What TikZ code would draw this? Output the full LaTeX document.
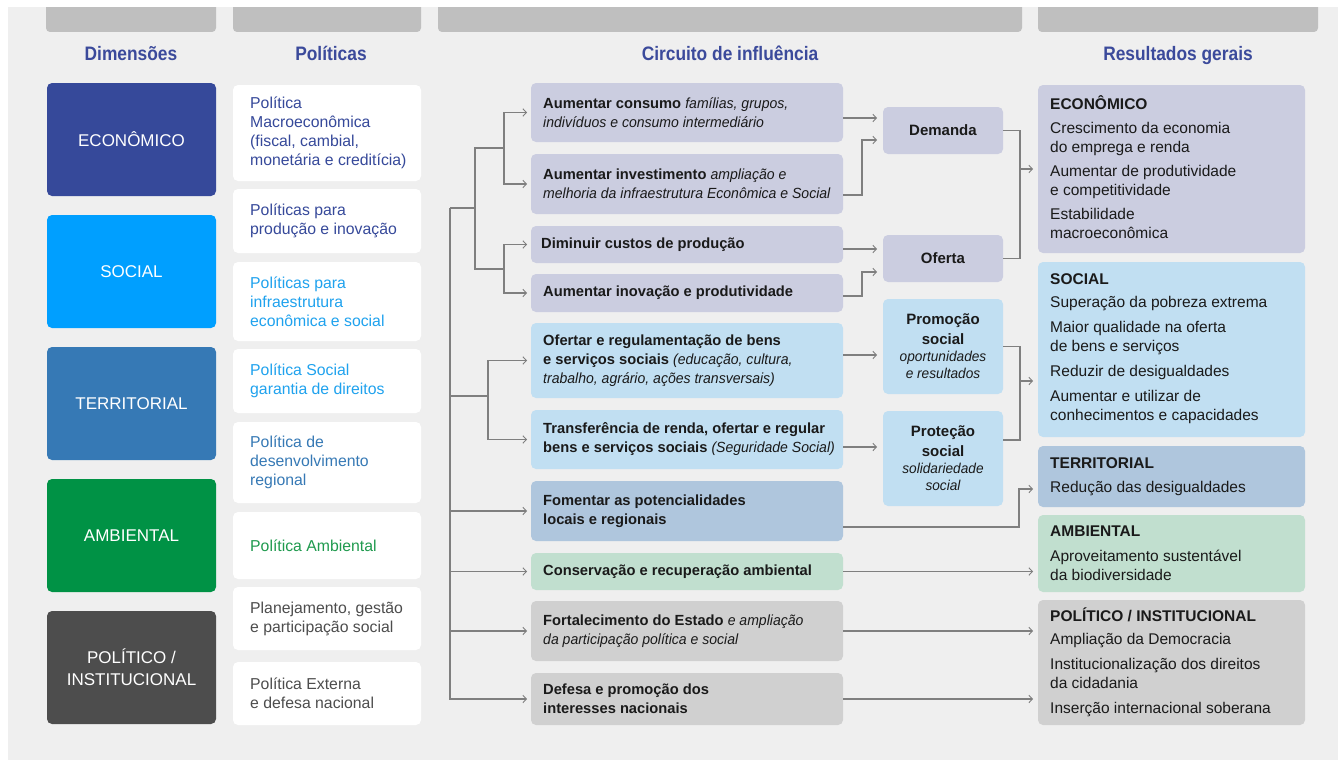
\documentclass[tikz,border=0pt]{standalone}
\usepackage{fontspec}
\setmainfont{Liberation Sans}[ItalicFeatures={FakeStretch=0.955}]
\newfontfamily\condfont[FakeStretch=0.89]{Liberation Sans}
\usetikzlibrary{arrows.meta}
\definecolor{bgc}{HTML}{EFEFEF}
\definecolor{barc}{HTML}{BFBFBF}
\definecolor{headc}{HTML}{3B4A9B}
\definecolor{dimblue}{HTML}{36499A}
\definecolor{socblue}{HTML}{009FFF}
\definecolor{terblue}{HTML}{3679B5}
\definecolor{ambgreen}{HTML}{009245}
\definecolor{polgray}{HTML}{4D4D4D}
\definecolor{ltxtblue}{HTML}{1FA2EE}
\definecolor{ambtxt}{HTML}{1F9A4E}
\definecolor{lav}{HTML}{CBCDE0}
\definecolor{lblue}{HTML}{C1DFF2}
\definecolor{tblue}{HTML}{AFC6DD}
\definecolor{lgreen}{HTML}{C1DFCF}
\definecolor{mgray}{HTML}{D0D0D0}
\definecolor{connc}{HTML}{7F7F7F}
\definecolor{txtc}{HTML}{1A1A1A}
\begin{document}
\begin{tikzpicture}[x=1pt,y=-1pt,
  box/.style={rectangle, rounded corners=5pt, inner sep=0pt, outer sep=0pt, anchor=north west},
  head/.style={anchor=base, inner sep=0pt, text=headc, font=\condfont\bfseries\fontsize{19.5}{22}\selectfont},
  dimtxt/.style={align=center, inner sep=0pt, text=white, font=\fontsize{17}{22}\selectfont},
  poltxt/.style={anchor=west, align=left, inner sep=0pt, font=\fontsize{15.8}{19}\selectfont},
  midtxt/.style={anchor=west, align=left, inner sep=0pt, text=txtc, font=\fontsize{14.7}{19}\selectfont},
  inttxt/.style={align=center, inner sep=0pt, text=txtc, font=\fontsize{15}{20}\selectfont},
  restxt/.style={anchor=west, align=left, inner sep=0pt, text=txtc, font=\fontsize{15.5}{19}\selectfont},
  conn/.style={draw=connc, line width=1.2pt},
  arr/.style={conn, -{Straight Barb[length=3.5pt,width=7.5pt,line width=0.9pt]}, shorten >=4pt},
  arrR/.style={arr, shorten >=6pt},
  arrF/.style={arr, shorten >=5pt}
]
\useasboundingbox (0,0) rectangle (1338,760);
\fill[white] (0,0) rectangle (1338,760);
\fill[bgc] (8,7) rectangle (1338,760);
% top bars
\fill[barc, rounded corners=4pt] (46,-10) rectangle (216,32);
\fill[barc, rounded corners=4pt] (233,-10) rectangle (421,32);
\fill[barc, rounded corners=4pt] (438,-10) rectangle (1022,32);
\fill[barc, rounded corners=4pt] (1038,-10) rectangle (1318,32);
\fill[white] (0,-12) rectangle (1338,7);

% headers
\node[head] (h1) at (131,61) {Dimensões};
\node[head] (h2) at (331,61) {Políticas};
\node[head] (h3) at (730,61) {Circuito de influência};
\node[head] (h4) at (1178,61) {Resultados gerais};

% dimension boxes
\node[box, fill=dimblue, minimum width=169pt, minimum height=113pt] (d1) at (47,83) {};
\node[box, fill=socblue, minimum width=169pt, minimum height=113pt] (d2) at (47,215) {};
\node[box, fill=terblue, minimum width=169pt, minimum height=113pt] (d3) at (47,347) {};
\node[box, fill=ambgreen, minimum width=169pt, minimum height=113pt] (d4) at (47,479) {};
\node[box, fill=polgray, minimum width=169pt, minimum height=113pt] (d5) at (47,611) {};
\node[dimtxt] (d1t) at (d1.center) {ECONÔMICO};
\node[dimtxt] (d2t) at (d2.center) {SOCIAL};
\node[dimtxt] (d3t) at (d3.center) {TERRITORIAL};
\node[dimtxt] (d4t) at (d4.center) {AMBIENTAL};
\node[dimtxt] (d5t) at (d5.center) {POLÍTICO /\\INSTITUCIONAL};

% policy boxes
\node[box, fill=white, minimum width=188pt, minimum height=96pt] (p1) at (233,85) {};
\node[box, fill=white, minimum width=188pt, minimum height=64pt] (p2) at (233,189) {};
\node[box, fill=white, minimum width=188pt, minimum height=79pt] (p3) at (233,262) {};
\node[box, fill=white, minimum width=188pt, minimum height=64pt] (p4) at (233,349) {};
\node[box, fill=white, minimum width=188pt, minimum height=81pt] (p5) at (233,422) {};
\node[box, fill=white, minimum width=188pt, minimum height=67pt] (p6) at (233,512) {};
\node[box, fill=white, minimum width=188pt, minimum height=63pt] (p7) at (233,587) {};
\node[box, fill=white, minimum width=188pt, minimum height=63pt] (p8) at (233,662) {};
\node[poltxt, text=dimblue] (p1t) at ([xshift=17pt]p1.west) {Política\\Macroeconômica\\(fiscal, cambial,\\monetária e creditícia)};
\node[poltxt, text=dimblue] (p2t) at ([xshift=17pt]p2.west) {Políticas para\\produção e inovação};
\node[poltxt, text=ltxtblue] (p3t) at ([xshift=17pt]p3.west) {Políticas para\\infraestrutura\\econômica e social};
\node[poltxt, text=ltxtblue] (p4t) at ([xshift=17pt]p4.west) {Política Social\\garantia de direitos};
\node[poltxt, text=terblue] (p5t) at ([xshift=17pt]p5.west) {Política de\\desenvolvimento\\regional};
\node[poltxt, text=ambtxt] (p6t) at ([xshift=17pt]p6.west) {Política Ambiental};
\node[poltxt, text=polgray] (p7t) at ([xshift=17pt]p7.west) {Planejamento, gestão\\e participação social};
\node[poltxt, text=polgray] (p8t) at ([xshift=17pt]p8.west) {Política Externa\\e defesa nacional};

% middle boxes
\node[box, fill=lav, minimum width=312pt, minimum height=59pt] (m1) at (531,83) {};
\node[box, fill=lav, minimum width=312pt, minimum height=60pt] (m2) at (531,154) {};
\node[box, fill=lav, minimum width=312pt, minimum height=37pt] (m3) at (531,226) {};
\node[box, fill=lav, minimum width=312pt, minimum height=38pt] (m4) at (531,274) {};
\node[box, fill=lblue, minimum width=312pt, minimum height=75pt] (m5) at (531,323) {};
\node[box, fill=lblue, minimum width=312pt, minimum height=59pt] (m6) at (531,410) {};
\node[box, fill=tblue, minimum width=312pt, minimum height=60pt] (m7) at (531,481) {};
\node[box, fill=lgreen, minimum width=312pt, minimum height=37pt] (m8) at (531,553) {};
\node[box, fill=mgray, minimum width=312pt, minimum height=60pt] (m9) at (531,601) {};
\node[box, fill=mgray, minimum width=312pt, minimum height=52pt] (m10) at (531,673) {};
\node[midtxt] (m1t) at ([xshift=12pt]m1.west) {\textbf{Aumentar consumo} \textit{famílias, grupos,}\\\textit{indivíduos e consumo intermediário}};
\node[midtxt] (m2t) at ([xshift=12pt]m2.west) {\textbf{Aumentar investimento} \textit{ampliação e}\\\textit{melhoria da infraestrutura Econômica e Social}};
\node[midtxt] (m3t) at ([xshift=10pt]m3.west) {\textbf{Diminuir custos de produção}};
\node[midtxt] (m4t) at ([xshift=12pt]m4.west) {\textbf{Aumentar inovação e produtividade}};
\node[midtxt] (m5t) at ([xshift=12pt]m5.west) {\textbf{Ofertar e regulamentação de bens}\\\textbf{e serviços sociais} \textit{(educação, cultura,}\\\textit{trabalho, agrário, ações transversais)}};
\node[midtxt] (m6t) at ([xshift=12pt]m6.west) {\textbf{Transferência de renda, ofertar e regular}\\\textbf{bens e serviços sociais} \textit{(Seguridade Social)}};
\node[midtxt] (m7t) at ([xshift=12pt]m7.west) {\textbf{Fomentar as potencialidades}\\\textbf{locais e regionais}};
\node[midtxt] (m8t) at ([xshift=12pt]m8.west) {\textbf{Conservação e recuperação ambiental}};
\node[midtxt] (m9t) at ([xshift=12pt]m9.west) {\textbf{Fortalecimento do Estado} \textit{e ampliação}\\\textit{da participação política e social}};
\node[midtxt] (m10t) at ([xshift=12pt]m10.west) {\textbf{Defesa e promoção dos}\\\textbf{interesses nacionais}};

% intermediate boxes
\node[box, fill=lav, minimum width=120pt, minimum height=47pt] (i1) at (883,107) {};
\node[box, fill=lav, minimum width=120pt, minimum height=47pt] (i2) at (883,235) {};
\node[box, fill=lblue, minimum width=120pt, minimum height=95pt] (i3) at (883,299) {};
\node[box, fill=lblue, minimum width=120pt, minimum height=95pt] (i4) at (883,411) {};
\node[inttxt] (i1t) at (i1.center) {\textbf{Demanda}};
\node[inttxt] (i2t) at (i2.center) {\textbf{Oferta}};
\node[inttxt] (i3t) at (i3.center) {\textbf{Promoção}\\\textbf{social}\\[-3pt]{\itshape\fontsize{14.3}{17}\selectfont oportunidades}\\[-3pt]{\itshape\fontsize{14.3}{17}\selectfont e resultados}};
\node[inttxt] (i4t) at (i4.center) {\textbf{Proteção}\\\textbf{social}\\[-3pt]{\itshape\fontsize{14.3}{17}\selectfont solidariedade}\\[-3pt]{\itshape\fontsize{14.3}{17}\selectfont social}};

% result boxes
\node[box, fill=lav, minimum width=267pt, minimum height=168pt] (r1) at (1038,85) {};
\node[box, fill=lblue, minimum width=267pt, minimum height=175pt] (r2) at (1038,262) {};
\node[box, fill=tblue, minimum width=267pt, minimum height=61pt] (r3) at (1038,446) {};
\node[box, fill=lgreen, minimum width=267pt, minimum height=77pt] (r4) at (1038,515) {};
\node[box, fill=mgray, minimum width=267pt, minimum height=125pt] (r5) at (1038,600) {};
\node[restxt] (r1t) at ([xshift=12pt,yshift=2pt]r1.west) {\textbf{ECONÔMICO}\\[5pt]Crescimento da economia\\do emprega e renda\\[5pt]Aumentar de produtividade\\e competitividade\\[5pt]Estabilidade\\macroeconômica};
\node[restxt] (r2t) at ([xshift=12pt,yshift=1pt]r2.west) {\textbf{SOCIAL}\\[4pt]Superação da pobreza extrema\\[6pt]Maior qualidade na oferta\\de bens e serviços\\[6pt]Reduzir de desigualdades\\[6pt]Aumentar e utilizar de\\conhecimentos e capacidades};
\node[restxt] (r3t) at ([xshift=12pt]r3.west) {\textbf{TERRITORIAL}\\[5pt]Redução das desigualdades};
\node[restxt] (r4t) at ([xshift=12pt]r4.west) {\textbf{AMBIENTAL}\\[6pt]Aproveitamento sustentável\\da biodiversidade};
\node[restxt] (r5t) at ([xshift=12pt]r5.west) {\textbf{POLÍTICO / INSTITUCIONAL}\\[4pt]Ampliação da Democracia\\[6pt]Institucionalização dos direitos\\da cidadania\\[6pt]Inserção internacional soberana};

% left tree
\coordinate (T) at (450,208);
\coordinate (ja) at (475,208);
\coordinate (e1) at (504,148);
\coordinate (e2) at (504,269);
\coordinate (s1) at (488,396);
\draw[conn] (T) -- (ja);
\draw[conn] (ja) |- (e1);
\draw[conn] (ja) |- (e2);
\draw[arr] (e1) |- (m1.west);
\draw[arr] (e1) |- (m2.west);
\draw[arr] (e2) |- (m3.west);
\draw[arr] (e2) |- (m4.west);
\draw[conn] (T) |- (s1);
\draw[arr] (s1) |- (m5.west);
\draw[arr] (s1) |- (m6.west);
\draw[arr] (T) |- (m7.west);
\draw[arr] (T) |- (m8.west);
\draw[arr] (T) |- (m9.west);
\draw[arr] (T) |- (m10.west);

% middle to intermediate
\coordinate (o1) at ([yshift=-5.5pt]m1.east);
\draw[arrR] (o1) -- (o1 -| i1.west);
\coordinate (o2) at ([yshift=-11pt]m2.east);
\coordinate (n2) at ([yshift=-9.5pt]i1.west);
\draw[arrR] (o2) -- ++(19,0) |- (n2);
\coordinate (o3) at ([yshift=-4.5pt]m3.east);
\draw[arrR] (o3) -- (o3 -| i2.west);
\coordinate (o4) at ([yshift=-3pt]m4.east);
\coordinate (n4) at ([yshift=-13.5pt]i2.west);
\draw[arrR] (o4) -- ++(19,0) |- (n4);
\coordinate (o5) at ([yshift=5.5pt]m5.east);
\draw[arrR] (o5) -- (o5 -| i3.west);
\coordinate (o6) at ([yshift=-7.5pt]m6.east);
\draw[arrR] (o6) -- (o6 -| i4.west);

% intermediate to results
\draw[conn] (i1.east) -- ++(17,0) |- (i2.east);
\draw[arrF] ([xshift=-18pt]r1.west) -- (r1.west);
\coordinate (o8) at ([yshift=18.5pt]i4.east);
\draw[conn] (i3.east) -- ++(17,0) |- (o8);
\coordinate (n8) at ([yshift=-31.5pt]r2.west);
\draw[arrF] ([xshift=-18pt]n8) -- (n8);
\coordinate (o9) at ([yshift=-16pt]m7.east);
\coordinate (n9) at ([yshift=-12.5pt]r3.west);
\draw[arrF] (o9) -| ([xshift=-19pt]n9) -- (n9);
\draw[arrF] (m8.east) -- (m8.east -| r4.west);
\draw[arrF] (m9.east) -- (m9.east -| r5.west);
\draw[arrF] (m10.east) -- (m10.east -| r5.west);
\end{tikzpicture}
\end{document}
